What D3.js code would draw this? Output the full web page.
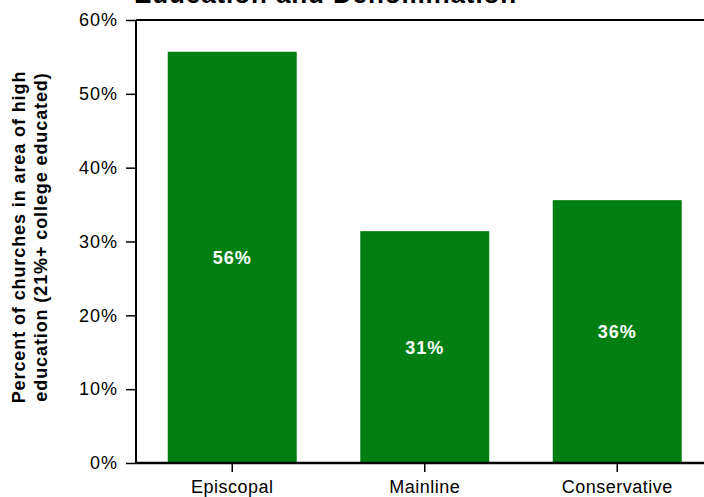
<!DOCTYPE html>
<html><head><meta charset="utf-8">
<script src="https://cdn.jsdelivr.net/npm/d3@7"></script>
<style>body{margin:0;background:#fff}svg{display:block}text{font-family:"Liberation Sans",Arial,sans-serif}</style>
</head><body>
<script>
const categories = ["Episcopal", "Mainline", "Conservative"];
const values = [55.7, 31.4, 35.6];
const valueLabels = ["56%", "31%", "36%"];
const yTicks = [0, 10, 20, 30, 40, 50, 60];
const title = "Education and Denomination";
const yTitle = ["Percent of churches in area of high", "education (21%+ college educated)"];

const W = 704, H = 497;
const svg = d3.select("body").append("svg").attr("width", W).attr("height", H);
const x0 = 136, y0 = 463, yTop = 20;
const x = d3.scaleBand().domain(categories).range([x0, x0 + 3 * 192.5]).paddingInner(0.33).paddingOuter(0.165);
const y = d3.scaleLinear().domain([0, 60]).range([y0, yTop]);

svg.append("text").attr("x", 134).attr("y", 3).attr("font-size", 26).attr("font-weight", "bold")
  .attr("letter-spacing", 0.9).text(title);

svg.selectAll("rect.bar").data(categories).join("rect").attr("class", "bar")
  .attr("x", d => x(d)).attr("width", x.bandwidth())
  .attr("y", (d, i) => y(values[i])).attr("height", (d, i) => y0 - y(values[i]))
  .attr("fill", "#027f13");

svg.selectAll("text.vl").data(categories).join("text").attr("class", "vl")
  .attr("x", d => x(d) + x.bandwidth() / 2)
  .attr("y", (d, i) => (y(values[i]) + y0) / 2 + 6.5)
  .attr("text-anchor", "middle").attr("fill", "#fff").attr("font-weight", "bold").attr("font-size", 18)
  .attr("letter-spacing", 1)
  .text((d, i) => valueLabels[i]);

const ya = svg.append("g").attr("transform", `translate(${x0},0)`)
  .call(d3.axisLeft(y).tickValues(yTicks).tickFormat(d => d + "%").tickSize(10).tickPadding(8));
ya.select(".domain").remove();
ya.selectAll("line").attr("stroke", "#000").attr("stroke-width", 1.5);
ya.selectAll("text").attr("font-size", 18).attr("fill", "#000").attr("letter-spacing", 1)
  .attr("font-family", "Liberation Sans, Arial, sans-serif");

const xa = svg.append("g").attr("transform", `translate(0,${y0})`)
  .call(d3.axisBottom(x).tickSize(9).tickPadding(8));
xa.select(".domain").remove();
xa.selectAll("line").attr("stroke", "#000").attr("stroke-width", 1.5);
xa.selectAll("text").attr("font-size", 18).attr("fill", "#000").attr("letter-spacing", 0.5)
  .attr("font-family", "Liberation Sans, Arial, sans-serif");

svg.append("line").attr("x1", x0).attr("x2", W).attr("y1", y0).attr("y2", y0).attr("stroke", "#000").attr("stroke-width", 2.5);
svg.append("line").attr("x1", x0).attr("x2", W).attr("y1", yTop).attr("y2", yTop).attr("stroke", "#000").attr("stroke-width", 2);
svg.append("line").attr("x1", x0).attr("x2", x0).attr("y1", yTop).attr("y2", y0).attr("stroke", "#000").attr("stroke-width", 2);

const yt = svg.append("text").attr("transform", "translate(25,237) rotate(-90)")
  .attr("text-anchor", "middle").attr("font-weight", "bold").attr("font-size", 18).attr("letter-spacing", 0.9);
yTitle.forEach((t, i) => yt.append("tspan").attr("x", 0).attr("dy", i ? 22 : 0).text(t));
</script>
</body></html>
